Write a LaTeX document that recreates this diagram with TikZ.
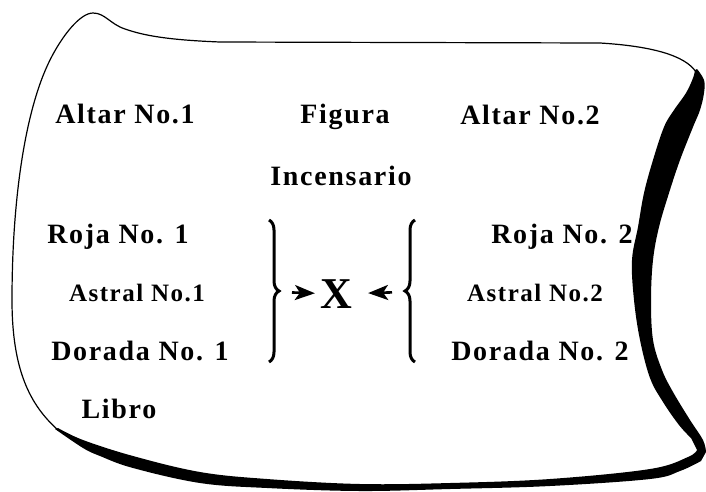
\documentclass[tikz,border=0pt]{standalone}
\usepackage{fontspec}
\setmainfont{Liberation Serif}[LetterSpace=6]
\usetikzlibrary{arrows.meta, decorations.pathreplacing}
\tikzset{
  word/.style   = {font=\fontsize{28}{30}\selectfont\bfseries, anchor=base,
                   inner sep=0pt},
  smallword/.style = {word, font=\fontsize{25}{28}\selectfont\bfseries},
  cross/.style  = {font=\fontsize{44}{44}\selectfont\bfseries, inner sep=0pt},
  edge/.style   = {line width=1.2pt, line cap=round, line join=round},
  curly/.style  = {decorate, decoration={brace, amplitude=10pt}, line width=3pt},
  point/.style  = {-{Stealth[length=20pt, width=15pt, inset=5pt]}, line width=2.6pt},
}

\begin{document}
\begin{tikzpicture}[x=1pt, y=-1pt]
  \useasboundingbox (0,0) rectangle (706,491);

  \draw[edge] (58,430) .. controls (30,405) and (12,370) .. (12,300)
        .. controls (12,200) and (25,110) .. (50,60)
        .. controls (62,36) and (80,13) .. (93,13)
        .. controls (105,13) and (110,24) .. (125,29)
        .. controls (145,36) and (170,40) .. (220,42)
        -- (600,43) .. controls (650,46) and (685,55) .. (696,72);

  \node[word] (altar1) at (125,123) {Altar No.1};
  \node[word] (figura) at (345,123) {Figura};
  \node[word] (altar2) at (530,124) {Altar No.2};
  \node[word] (incens) at (341,185) {Incensario};
  \node[word] (roja1) at (118,243) {Roja No. 1};
  \node[word] (roja2) at (562,243) {Roja No. 2};
  \node[smallword] (astral1) at (137,301) {Astral No.1};
  \node[smallword] (astral2) at (535,301) {Astral No.2};
  \node[word] (dorada1) at (140,360) {Dorada No. 1};
  \node[word] (dorada2) at (540,360) {Dorada No. 2};
  \node[word] (libro) at (119,418) {Libro};
  \node[cross] (x) at (336,294) {X};

  \coordinate (lb1) at (269,220);
  \coordinate (lb2) at (269,362);
  \coordinate (rb1) at (415,220);
  \coordinate (rb2) at (415,362);
  \coordinate (ltip) at (279,292);
  \coordinate (rtip) at (405,292);

  \draw[curly] (lb1) -- (lb2);
  \draw[curly] (rb2) -- (rb1);
  \draw[point, shorten <=13pt, shorten >=5pt] (ltip) -- (x);
  \draw[point, shorten <=13pt, shorten >=16pt] (rtip) -- (x);

  \fill plot[smooth, tension=0.6] coordinates {(697,69) (704,80) (704,93)
        (700,110) (693,127) (680,160) (669,193) (659,227) (653,260) (651,300)
        (653,340) (662,370) (673,392) (690,420) (703,440) (706,452)}
    -- plot[smooth, tension=0.6] coordinates {(701,461) (680,471) (650,479)
        (550,486) (450,489) (360,491) (267,488) (200,483) (133,468) (100,456)
        (83,448) (55,429)}
    -- plot[smooth, tension=0.6] coordinates {(58,428) (83,440) (133,456)
        (200,472) (267,479) (360,484) (450,483) (550,479) (650,469) (688,457)
        (697,450)}
    -- plot[smooth, tension=0.6] coordinates {(691,438) (679,425) (663,402)
        (650,378) (640,340) (634,300) (632,260) (638,227) (644,193) (653,160)
        (664,127) (674,110) (686,93) (693,78) (695,70)}
    -- cycle;
\end{tikzpicture}
\end{document}
